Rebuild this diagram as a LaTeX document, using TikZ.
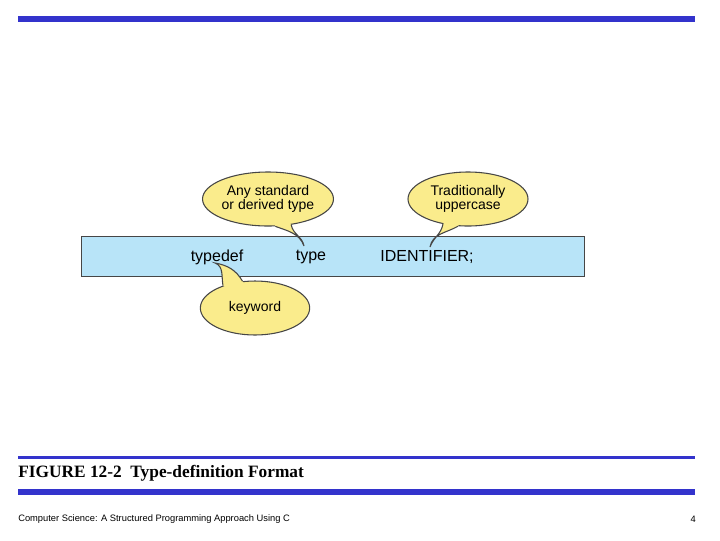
\documentclass[tikz,border=0pt]{standalone}
\usepackage{fontspec}
\setmainfont{Liberation Serif}
\setsansfont{Liberation Sans}
\usetikzlibrary{shapes.geometric,calc}
\definecolor{barblue}{RGB}{51,51,204}
\definecolor{band}{RGB}{184,228,248}
\definecolor{bub}{RGB}{250,236,140}
\definecolor{edge}{RGB}{70,70,70}
\begin{document}
\begin{tikzpicture}[x=0.75pt,y=-0.75pt,
  bubble/.style={ellipse,draw=edge,line width=0.8pt,fill=bub,minimum width=90pt,minimum height=40.5pt,inner sep=0pt,align=center,font=\sffamily\fontsize{10.5}{11}\selectfont},
  word/.style={font=\sffamily\fontsize{12}{13}\selectfont,inner sep=0pt}]
\useasboundingbox (0,0) rectangle (720,540);
\fill[barblue] (18,16) rectangle (695,22);
\node[draw=edge,fill=band,line width=0.6pt,minimum width=377.25pt,minimum height=30pt,inner sep=0pt] (bandn) at (332.5,256) {};
\node[word] (td) at (217,257) {typedef};
\node[word] (ty) at (311,257) {type};
\node[word] (id) at (427,257) {IDENTIFIER;};
\node[bubble] (b1) at (268,199) {Any standard\\or derived type};
\node[bubble] (b2) at (468,199) {Traditionally\\uppercase};
\node[bubble,minimum width=82pt] (b3) at (255,308) {keyword};
\coordinate (t1) at (304,246);
\coordinate (t2) at (430,247);
\coordinate (t3) at (215,263);
% tails
\fill[bub] (b1.-48) to[out=-80,in=100] (t1) to[out=110,in=-20] (b1.-75) -- ($(b1.-75)!0.15!(b1.center)$) -- ($(b1.-48)!0.15!(b1.center)$) -- cycle;
\draw[edge,line width=0.8pt] (b1.-48) to[out=-80,in=100] (t1) to[out=110,in=-20] (b1.-75);
\fill[bub] (b2.-110) to[out=-150,in=80] (t2) to[out=70,in=-100] (b2.-135) -- ($(b2.-135)!0.15!(b2.center)$) -- ($(b2.-110)!0.15!(b2.center)$) -- cycle;
\draw[edge,line width=0.8pt] (b2.-110) to[out=-150,in=80] (t2) to[out=70,in=-100] (b2.-135);
\fill[bub] (b3.115) to[out=120,in=-10] (t3) to[out=-20,in=100] (b3.145) -- ($(b3.145)!0.15!(b3.center)$) -- ($(b3.115)!0.15!(b3.center)$) -- cycle;
\draw[edge,line width=0.8pt] (b3.115) to[out=120,in=-10] (t3) to[out=-20,in=100] (b3.145);
\fill[barblue] (18,456) rectangle (695,458.5);
\node[anchor=west,inner sep=0pt,font=\bfseries\fontsize{13}{14}\selectfont] (cap) at (18,473) {FIGURE 12-2\ \ Type-definition Format};
\fill[barblue] (18,489) rectangle (695,495);
\node[anchor=west,inner sep=0pt,font=\sffamily\fontsize{7}{8}\selectfont] (foot) at (18,519) {Computer Science: A Structured Programming Approach Using C};
\node[anchor=east,inner sep=0pt,font=\sffamily\fontsize{7}{8}\selectfont] (pg) at (696,519) {4};
\end{tikzpicture}
\end{document}
